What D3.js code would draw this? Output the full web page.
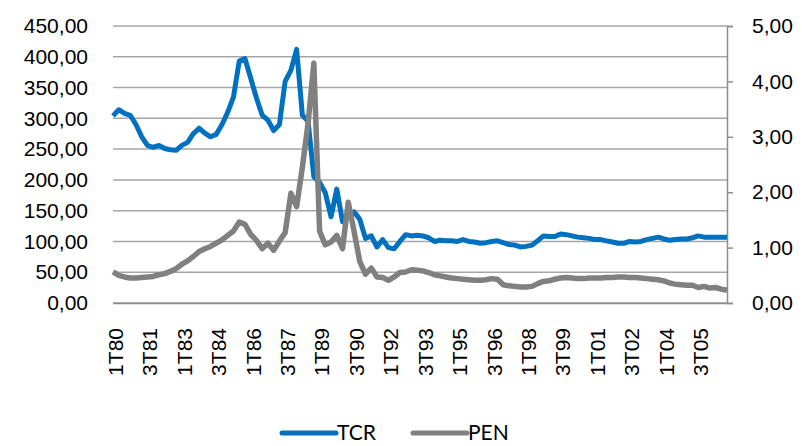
<!DOCTYPE html>
<html>
<head>
<meta charset="utf-8">
<script src="https://cdn.jsdelivr.net/npm/d3@7"></script>
<style>
  body { margin: 0; background: #fff; }
  svg { font-family: Lato, "Open Sans", sans-serif; }
</style>
</head>
<body>
<div id="chart"></div>
<script>
// quarterly categories 1T80 .. 4T06
const years = d3.range(1980, 2007);
const quarters = [];
years.forEach(y => {
    for (let q = 1; q <= 4; q++) quarters.push(q + "T" + String(y).slice(2));
});

// left axis series
const tcr = [
    304, 314, 308, 305, 290, 270, 256, 253, 256, 251,
    249, 248, 256, 261, 275, 284, 276, 270, 274, 290,
    310, 335, 393, 397, 365, 333, 305, 297, 280, 290,
    360, 378, 412, 305, 295, 205, 196, 179, 140, 185,
    132, 141, 148, 136, 105, 109, 91, 103, 90, 88,
    100, 111, 109, 110, 109, 106, 100, 102, 101, 101,
    100, 103, 100, 99, 97, 98, 100, 101, 98, 95,
    94, 91, 92, 94, 101, 109, 108, 108, 112, 111,
    109, 107, 106, 105, 103, 103, 101, 99, 97, 97,
    100, 99, 100, 103, 105, 107, 104, 102, 103, 104,
    104, 106, 109, 107, 107, 107, 107, 107
];

// right axis series
const pen = [
    0.56, 0.50, 0.47, 0.45, 0.45, 0.46, 0.47, 0.48, 0.51, 0.53,
    0.57, 0.62, 0.70, 0.76, 0.84, 0.93, 0.98, 1.02, 1.08, 1.14,
    1.22, 1.30, 1.46, 1.42, 1.24, 1.13, 0.98, 1.08, 0.95, 1.12,
    1.27, 1.98, 1.74, 2.45, 3.25, 4.33, 1.30, 1.05, 1.10, 1.22,
    0.98, 1.82, 1.30, 0.75, 0.52, 0.63, 0.47, 0.46, 0.41, 0.47,
    0.55, 0.56, 0.60, 0.59, 0.58, 0.55, 0.51, 0.49, 0.47, 0.45,
    0.44, 0.43, 0.42, 0.41, 0.41, 0.42, 0.44, 0.43, 0.33, 0.31,
    0.30, 0.29, 0.29, 0.30, 0.35, 0.39, 0.40, 0.43, 0.45, 0.46,
    0.45, 0.44, 0.44, 0.45, 0.45, 0.45, 0.46, 0.46, 0.47, 0.47,
    0.46, 0.46, 0.45, 0.44, 0.43, 0.42, 0.40, 0.36, 0.34, 0.33,
    0.32, 0.32, 0.28, 0.30, 0.27, 0.28, 0.25, 0.23
];

const leftTicks = [0, 50, 100, 150, 200, 250, 300, 350, 400, 450];
const rightTicks = [0, 1, 2, 3, 4, 5];
const seriesNames = ["TCR", "PEN"];
const colors = ["#0070c0", "#808080"];

const locale = d3.formatLocale({decimal: ",", thousands: ".", grouping: [3], currency: ["", ""]});
const fmt = locale.format(".2f");

const svg = d3.select("#chart")
    .append("svg")
    .attr("width", 802)
    .attr("height", 446);

const margin = {top: 26, right: 75, bottom: 143, left: 113},
    width = +svg.attr("width") - margin.left - margin.right,
    height = +svg.attr("height") - margin.top - margin.bottom;

const x = d3.scalePoint().domain(quarters).range([0, width]),
    yL = d3.scaleLinear().domain([0, 450]).range([height, 0]),
    yR = d3.scaleLinear().domain([0, 5]).range([height, 0]);

const g = svg.append("g")
    .attr("transform", `translate(${margin.left},${margin.top})`);

// gridlines
g.append("g")
    .selectAll("line")
    .data(leftTicks)
    .enter().append("line")
    .attr("x1", 0)
    .attr("x2", width)
    .attr("y1", d => yL(d))
    .attr("y2", d => yL(d))
    .attr("stroke", "#a6a6a6")
    .attr("stroke-width", 1.5);

// left axis (labels only)
g.append("g")
    .call(d3.axisLeft(yL).tickValues(leftTicks).tickFormat(fmt).tickSize(0).tickPadding(25))
    .call(a => a.select(".domain").remove())
    .selectAll("text")
    .attr("font-size", 21)
    .attr("fill", "#000");

// right axis
const ra = g.append("g")
    .attr("transform", `translate(${width},0)`)
    .call(d3.axisRight(yR).tickValues(rightTicks).tickFormat(fmt).tickSize(6).tickPadding(19));
ra.select(".domain").attr("stroke", "#8c8c8c").attr("stroke-width", 1.5);
ra.selectAll(".tick line").attr("stroke", "#8c8c8c").attr("stroke-width", 1.5);
ra.selectAll("text").attr("font-size", 21).attr("fill", "#000");

// bottom axis
const xa = g.append("g")
    .attr("transform", `translate(0,${height})`)
    .call(d3.axisBottom(x).tickValues(quarters.filter((d, i) => i % 6 === 0)).tickSize(0));
xa.select(".domain").attr("stroke", "#8c8c8c").attr("stroke-width", 1.5);
xa.selectAll("text")
    .attr("font-size", 21)
    .attr("fill", "#000")
    .attr("transform", "rotate(-90)")
    .attr("text-anchor", "end")
    .attr("x", -25)
    .attr("y", 2)
    .attr("dy", "0.35em");

// lines
const lineL = d3.line().x((d, i) => x(quarters[i])).y(d => yL(d));
const lineR = d3.line().x((d, i) => x(quarters[i])).y(d => yR(d));

g.append("path")
    .datum(tcr)
    .attr("fill", "none")
    .attr("stroke", colors[0])
    .attr("stroke-width", 5)
    .attr("stroke-linejoin", "round")
    .attr("d", lineL);

g.append("path")
    .datum(pen)
    .attr("fill", "none")
    .attr("stroke", colors[1])
    .attr("stroke-width", 5.5)
    .attr("stroke-linejoin", "round")
    .attr("d", lineR);

// legend
const legend = svg.append("g").attr("transform", "translate(282,433)");
const items = [{name: seriesNames[0], color: colors[0], x: 0}, {name: seriesNames[1], color: colors[1], x: 131}];
const li = legend.selectAll("g")
    .data(items)
    .enter().append("g")
    .attr("transform", d => `translate(${d.x},0)`);
li.append("line")
    .attr("x1", 0).attr("x2", 54)
    .attr("stroke", d => d.color)
    .attr("stroke-width", 5)
    .attr("stroke-linecap", "round");
li.append("text")
    .attr("x", 55)
    .attr("dy", "0.35em")
    .attr("font-size", 21)
    .text(d => d.name);
</script>
</body>
</html>
